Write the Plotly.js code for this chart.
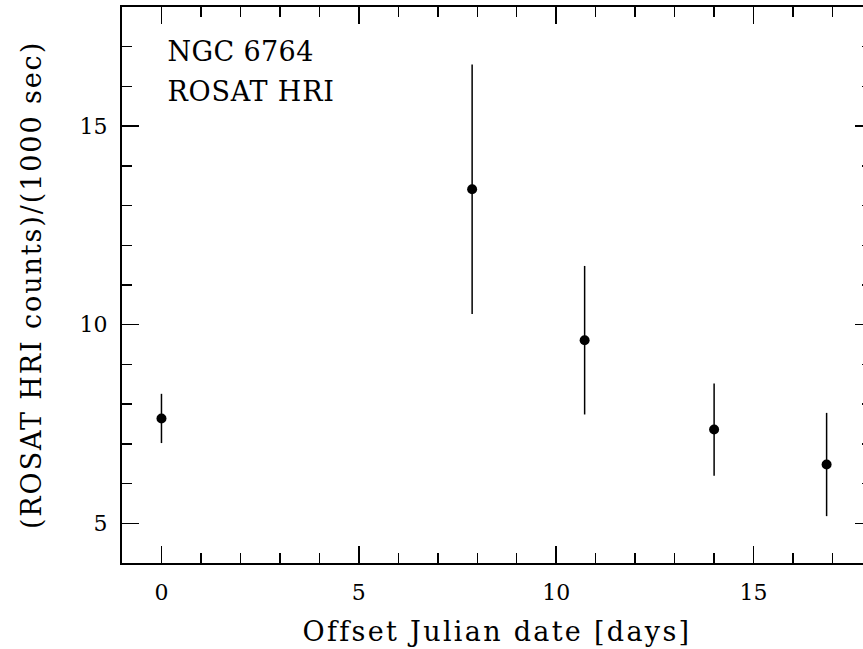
<!DOCTYPE html>
<html>
<head>
<meta charset="utf-8">
<script src="https://cdn.plot.ly/plotly-3.0.1.min.js"></script>
<style>
  html, body { margin: 0; padding: 0; overflow: hidden; background: #fff; }
  #chart { width: 872px; height: 649px; }
  .xtitle { letter-spacing: 2.3px; }
  .ytitle { letter-spacing: 1.9px; }
  g.annotation[data-index="0"] text { letter-spacing: 0.4px; }
  g.annotation[data-index="1"] text { letter-spacing: 0.8px; }
</style>
</head>
<body>
<div id="chart"></div>
<script>
// Data
const offsetDays = [0.0, 7.87, 10.72, 14.0, 16.85];
const countRate  = [7.64, 13.41, 9.61, 7.36, 6.48];
const rateError  = [0.62, 3.14, 1.87, 1.16, 1.30];

const xTitle = 'Offset Julian date [days]';
const yTitle = '(ROSAT HRI counts)/(1000 sec)';
const labelLines = ['NGC 6764', 'ROSAT HRI'];

const FONT = 'DejaVu Serif';

const trace = {
  x: offsetDays,
  y: countRate,
  mode: 'markers',
  type: 'scatter',
  marker: { color: '#000', size: 10 },
  error_y: { type: 'data', array: rateError, visible: true, color: '#000', thickness: 1.5, width: 0 },
  showlegend: false,
  hoverinfo: 'none'
};

const axisCommon = {
  showgrid: false,
  zeroline: false,
  showline: true,
  linecolor: '#000',
  linewidth: 2,
  mirror: 'allticks',
  ticks: 'inside',
  ticklen: 17,
  tickwidth: 1.5,
  tickcolor: '#000',
  tick0: 0,
  dtick: 5,
  tickfont: { family: FONT, size: 22, color: '#000' },
  minor: { ticks: 'inside', ticklen: 10, tickwidth: 1.5, tickcolor: '#000', dtick: 1, showgrid: false }
};

const layout = {
  width: 872,
  height: 649,
  margin: { l: 122, r: 0, t: 7, b: 86 },
  paper_bgcolor: '#fff',
  plot_bgcolor: '#fff',
  xaxis: Object.assign({}, axisCommon, {
    range: [-1, 18],
    ticklabelstandoff: 9,
    title: { text: xTitle, font: { family: FONT, size: 27, color: '#000' }, standoff: 18 }
  }),
  yaxis: Object.assign({}, axisCommon, {
    range: [4, 18],
    ticklabelstandoff: 8,
    title: { text: yTitle, font: { family: FONT, size: 27, color: '#000' }, standoff: 30 }
  }),
  annotations: [
    {
      xref: 'x', yref: 'y', x: 1.99, y: 16.87,
      text: labelLines[0], showarrow: false,
      font: { family: FONT, size: 27, color: '#000' },
      xanchor: 'center', yanchor: 'middle'
    },
    {
      xref: 'x', yref: 'y', x: 2.28, y: 15.86,
      text: labelLines[1], showarrow: false,
      font: { family: FONT, size: 27, color: '#000' },
      xanchor: 'center', yanchor: 'middle'
    }
  ]
};

Plotly.newPlot('chart', [trace], layout, { staticPlot: true, displayModeBar: false });
</script>
</body>
</html>
